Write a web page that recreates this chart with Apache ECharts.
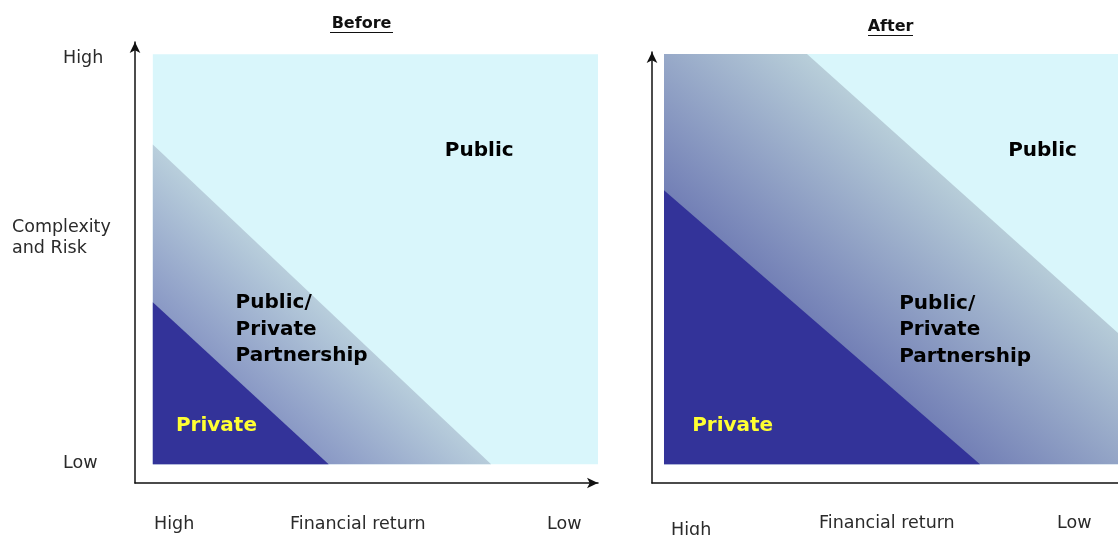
<!DOCTYPE html>
<html>
<head>
<meta charset="utf-8">
<script src="https://cdn.jsdelivr.net/npm/echarts@6/dist/echarts.min.js"></script>
<style>
  html, body { margin: 0; padding: 0; background: #ffffff; }
  #chart { width: 1118px; height: 535px; }
</style>
</head>
<body>
<div id="chart"></div>
<script>
// ---- data (in chart units: financial return 0..100 across, complexity 0..100 up) ----
const panelTitles = ['Before', 'After'];
const yAxisTicks = ['High', 'Complexity\nand Risk', 'Low'];
const xAxisTicks = ['High', 'Financial return', 'Low'];

const publicZone = [
  [[0, 0], [100, 0], [100, 100], [0, 100]],
  [[0, 0], [100, 0], [100, 100], [0, 100]]
];
const partnershipZone = [
  [[0, 0], [0, 78], [76, 0]],
  [[0, 0], [0, 100], [31.5, 100], [100, 32], [100, 0]]
];
const privateZone = [
  [[0, 0], [0, 39.5], [39.5, 0]],
  [[0, 0], [0, 66.8], [69.6, 0]]
];
const zoneNames = ['Public', 'Public/\nPrivate\nPartnership', 'Private'];
const labelAnchors = [
  [[65.6, 76.4], [18.6, 32.8], [5.2, 9.3]],
  [[75.8, 76.4], [51.8, 32.7], [6.2, 9.3]]
];

// ---- styles ----
const cyan = '#D9F6FB';
const navy = '#333399';
const bandColors = [['#8A99C5', '#B9CFDC'], ['#7380B6', '#B8CED9']];
const textFont = 'DejaVu Sans';

const chart = echarts.init(document.getElementById('chart'), null, { renderer: 'canvas' });

function polygonSeries(zones, panel, fillFn, z) {
  return {
    type: 'custom',
    xAxisIndex: panel, yAxisIndex: panel,
    silent: true, z: z, clip: false,
    data: [[0, 0]],
    renderItem: function (params, api) {
      const pts = zones[panel].map(p => api.coord(p));
      return { type: 'polygon', shape: { points: pts }, style: { fill: fillFn(api), stroke: null } };
    }
  };
}

function bandFill(panel) {
  return function (api) {
    const priv = privateZone[panel];
    const a = api.coord(priv[1]), b = api.coord(priv[2]);
    const dx = b[0] - a[0], dy = b[1] - a[1];
    const len = Math.hypot(dx, dy);
    const nx = dy / len, ny = -dx / len;
    const sx = (a[0] + b[0]) / 2, sy = (a[1] + b[1]) / 2;
    let tmax = 0;
    partnershipZone[panel].forEach(p => {
      const c = api.coord(p);
      const t = (c[0] - sx) * nx + (c[1] - sy) * ny;
      if (t > tmax) tmax = t;
    });
    return new echarts.graphic.LinearGradient(sx, sy, sx + nx * tmax, sy + ny * tmax, [
      { offset: 0, color: bandColors[panel][0] },
      { offset: 1, color: bandColors[panel][1] }
    ], true);
  };
}

function labelSeries(panel) {
  return {
    type: 'scatter',
    xAxisIndex: panel, yAxisIndex: panel,
    silent: true, z: 10,
    symbolSize: 0,
    itemStyle: { opacity: 1 },
    data: zoneNames.map((n, i) => ({
      name: n,
      value: labelAnchors[panel][i],
      label: {
        show: true, position: 'right', distance: 0,
        formatter: '{b}', opacity: 1,
        color: i === 2 ? '#FFFF33' : '#000000',
        fontFamily: textFont, fontWeight: 'bold', fontSize: 20,
        lineHeight: 26.5, align: 'left', verticalAlign: 'middle'
      }
    }))
  };
}

const axisLineStyle = { color: '#111111', width: 1.5 };
function valueAxis(grid, min, max, arrow) {
  return {
    type: 'value', gridIndex: grid, min: min, max: max,
    axisLine: { show: true, onZero: false, symbol: arrow ? ['none', 'arrow'] : 'none', symbolSize: [8, 11], lineStyle: axisLineStyle },
    axisTick: { show: false }, axisLabel: { show: false }, splitLine: { show: false }
  };
}

function txt(text, x, y, opts) {
  return {
    type: 'text', x: x, y: y, silent: true,
    style: Object.assign({
      text: text, fill: '#2a2a2a', font: '17.5px "' + textFont + '"',
      textVerticalAlign: 'middle', textAlign: 'left', lineHeight: 21
    }, opts || {})
  };
}

const graphics = [
  txt(panelTitles[0], 361.5, 24, { textAlign: 'center', font: 'bold 16px "' + textFont + '"', fill: '#111111' }),
  { type: 'line', silent: true, shape: { x1: 330, y1: 32.5, x2: 393, y2: 32.5 }, style: { stroke: '#111111', lineWidth: 1.2 } },
  txt(panelTitles[1], 890.5, 27, { textAlign: 'center', font: 'bold 16px "' + textFont + '"', fill: '#111111' }),
  { type: 'line', silent: true, shape: { x1: 868, y1: 35.5, x2: 913, y2: 35.5 }, style: { stroke: '#111111', lineWidth: 1.2 } },
  txt(yAxisTicks[0], 63, 58),
  txt(yAxisTicks[1], 12, 237.5),
  txt(yAxisTicks[2], 63, 463),
  txt(xAxisTicks[0], 154, 524),
  txt(xAxisTicks[1], 290, 524),
  txt(xAxisTicks[2], 547, 524),
  txt(xAxisTicks[0], 671, 530),
  txt(xAxisTicks[1], 819, 523),
  txt(xAxisTicks[2], 1057, 523)
];

chart.setOption({
  animation: false,
  backgroundColor: '#ffffff',
  grid: [
    { left: 135, top: 42, width: 463, height: 441 },
    { left: 652, top: 52, width: 466, height: 431 }
  ],
  xAxis: [valueAxis(0, -4, 100, true), valueAxis(1, -2.64, 100, false)],
  yAxis: [valueAxis(0, -4.6, 103, true), valueAxis(1, -4.6, 100.5, true)],
  series: [
    polygonSeries(publicZone, 0, () => cyan, 1),
    polygonSeries(partnershipZone, 0, bandFill(0), 2),
    polygonSeries(privateZone, 0, () => navy, 3),
    labelSeries(0),
    polygonSeries(publicZone, 1, () => cyan, 1),
    polygonSeries(partnershipZone, 1, bandFill(1), 2),
    polygonSeries(privateZone, 1, () => navy, 3),
    labelSeries(1)
  ],
  graphic: graphics
});
</script>
</body>
</html>
